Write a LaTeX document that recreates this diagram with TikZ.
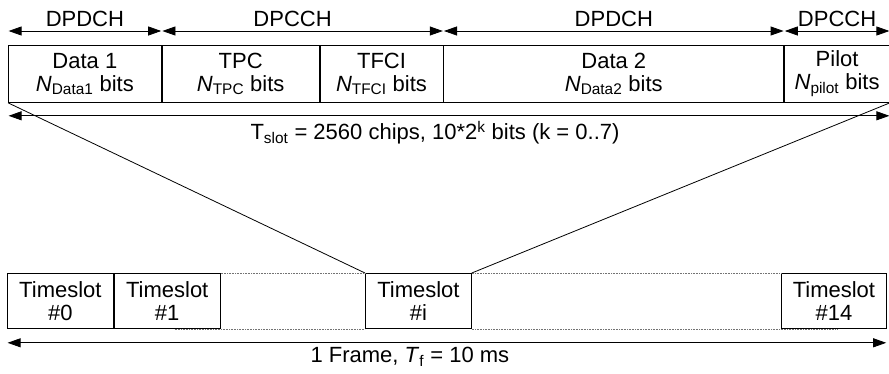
\documentclass[tikz,border=0pt]{standalone}
\usepackage{fontspec}
\setmainfont{Liberation Sans}
\usetikzlibrary{arrows.meta,positioning}
\tikzset{
  lbl/.style={font=\fontsize{22}{23}\selectfont},
  field/.style={draw, lbl, inner sep=0pt, minimum height=57pt, align=center},
  slot/.style={draw, lbl, inner sep=0pt, minimum width=106pt, minimum height=55pt, align=center},
  span/.style={<->, shorten <=0.6pt, shorten >=0.6pt},
  gap/.style={densely dotted, black!55, line width=0.6pt},
}
\begin{document}
\begin{tikzpicture}[x=1pt,y=-1pt,line width=0.8pt,>={Triangle[length=13pt,width=9pt]}]
  \useasboundingbox (0,0) rectangle (889,373);
  \node[field, anchor=north west, minimum width=153pt] (d1) at (8,45) {Data 1\\\textit{N}\textsubscript{Data1} bits};
  \node[field, right=0pt of d1, minimum width=157pt] (tpc) {TPC\\\textit{N}\textsubscript{TPC} bits};
  \node[field, right=0pt of tpc, minimum width=123pt] (tfci) {TFCI\\\textit{N}\textsubscript{TFCI} bits};
  \node[field, right=0pt of tfci, minimum width=340pt] (d2) {Data 2\\\textit{N}\textsubscript{Data2} bits};
  \node[field, right=0pt of d2, minimum width=105pt] (pilot) {Pilot\\\textit{N}\textsubscript{pilot} bits};
  \draw[span] ([yshift=14pt]d1.north west) -- node[above, lbl, inner sep=4pt] {DPDCH} ([yshift=14pt]d1.north east);
  \draw[span] ([yshift=14pt]tpc.north west) -- node[above, lbl, inner sep=4pt, xshift=-10pt] {DPCCH} ([yshift=14pt]tfci.north east);
  \draw[span] ([yshift=14pt]d2.north west) -- node[above, lbl, inner sep=4pt] {DPDCH} ([yshift=14pt]d2.north east);
  \draw[span] ([yshift=14pt]pilot.north west) -- node[above, lbl, inner sep=4pt] {DPCCH} ([yshift=14pt]pilot.north east);
  \draw[span] ([yshift=-13pt]d1.south west) -- node[below, lbl, inner sep=5pt, xshift=-14pt]
      {T\textsubscript{slot} = 2560 chips, 10*2\textsuperscript{k} bits (k = 0..7)} ([yshift=-13pt]pilot.south east);
  \node[slot, anchor=north west] (s0) at (7,273) {Timeslot\\\#0};
  \node[slot, right=0pt of s0] (s1) {Timeslot\\\#1};
  \node[slot, anchor=north west] (si) at (365,273) {Timeslot\\\#i};
  \node[slot, anchor=north west, minimum width=105pt] (s14) at (781,273) {Timeslot\\\#14};
  \draw[gap] (s1.north east) -- (si.north west);
  \draw[gap] (si.north east) -- (s14.north west);
  \draw[gap] ([xshift=-46pt]s1.south east) -- (si.south west);
  \draw[gap] (si.south east) -- ([xshift=56pt]s14.south west);
  \draw (d1.south west) -- (si.north west);
  \draw (pilot.south east) -- (si.north east);
  \draw[span] ([yshift=-14pt]s0.south west) -- node[below, lbl, inner sep=4pt, xshift=-37pt]
      {1 Frame, \textit{T}\textsubscript{f} = 10 ms} ([yshift=-14pt]s14.south east);
\end{tikzpicture}
\end{document}
